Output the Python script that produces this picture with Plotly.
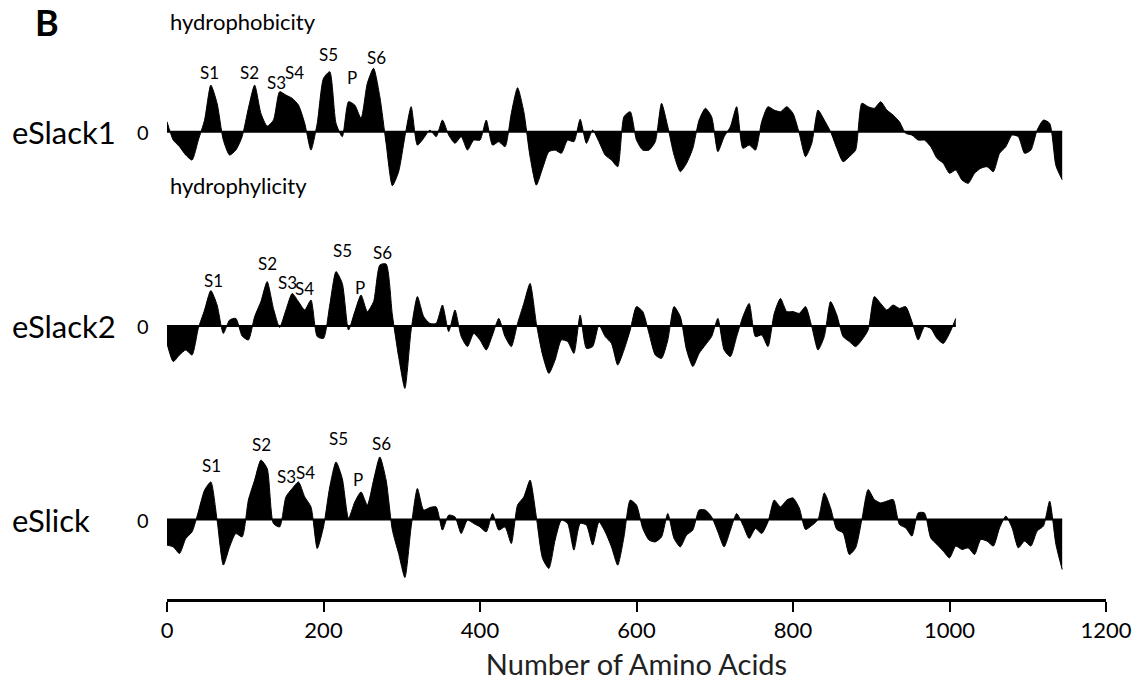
import numpy as np
import plotly.graph_objects as go

# ---------------- data (hydropathy, sampled every 8 residues) ----------------
STEP = 8
eslack1 = [0.5, -0.42, -0.75, -1.17, -1.42, -0.42, 0.58, 2.33, 1.42, -0.42,
           -1.17, -0.92, -0.25, 1.17, 2.33, 0.92, 0.28, 0.58, 2.0, 1.83,
           1.67, 1.33, 0.42, -0.92, 0.42, 2.67, 3.0, 0.42, -0.25, 1.5,
           1.33, 0.67, 2.42, 3.17, 1.75, -0.58, -2.7, -2.0, -0.25, 1.25,
           -0.67, -0.33, 0.08, -0.25, 0.58, -0.17, -0.58, -0.25, -0.92, -0.42,
           -0.42, 0.58, -0.67, -0.5, -0.75, 0.92, 2.2, 1.0, -1.25, -2.67,
           -1.83, -1.0, -0.92, -1.08, -0.42, -0.5, 0.62, -0.58, 0.08, -0.5,
           -1.17, -1.42, -1.75, 0.75, 1.0, -0.42, -0.92, -0.92, -0.5, 1.42,
           0.25, -1.17, -2.0, -1.58, -0.83, 0.58, 1.17, 0.75, -1.0, -0.25,
           0.25, 1.25, -0.83, -0.67, -0.92, 0.5, 1.25, 1.08, 1.0, 1.25,
           0.92, -0.08, -1.25, -0.58, 1.08, 0.58, 0.0, -0.83, -1.5, -1.25,
           -0.92, 1.42, 1.25, 1.17, 1.5, 1.08, 0.83, 0.5, -0.08, -0.17,
           -0.42, -0.42, -0.75, -1.33, -1.58, -2.08, -1.92, -2.42, -2.58, -2.08,
           -1.83, -1.75, -2.0, -1.08, -0.75, -0.17, -0.25, -1.08, -0.92, 0.08,
           0.58, 0.42, -1.7, -2.4]
eslack2 = [-0.87, -1.78, -1.45, -1.2, -1.45, -0.12, 0.8, 1.77, 1.05, -0.37,
           0.3, 0.38, -0.5, -0.7, 0.47, 1.22, 2.22, 0.88, -0.07, 0.8,
           1.63, 1.22, 0.8, 1.3, -0.53, -0.62, 1.05, 2.72, 2.13, -0.2,
           0.72, 1.55, 0.72, 1.22, 3.05, 3.1, 0.55, -1.53, -3.12, -0.2,
           1.47, 0.47, 0.13, 0.13, 1.05, -0.28, 0.8, -0.53, -1.03, -0.37,
           -0.7, -1.2, -0.45, 0.38, -0.53, -1.03, 0.13, 1.13, 2.13, 0.13,
           -1.45, -2.37, -1.7, -0.7, -0.78, -1.37, 0.55, -1.12, -1.03, 0.05,
           -0.53, -0.87, -1.95, -1.2, -0.2, 0.97, 0.72, -0.37, -1.45, -1.62,
           -0.7, 0.97, 0.47, -1.2, -2.03, -1.37, -0.95, -0.53, 0.38, -1.2,
           -1.53, -0.53, 0.47, 1.13, -0.53, -0.45, -1.03, 0.63, 1.38, 0.72,
           0.72, 0.63, 0.97, -0.03, -1.2, -0.53, 1.22, 0.55, -0.53, -0.78,
           -1.03, -0.7, -0.2, 1.47, 1.13, 0.8, 1.05, 0.88, 0.97, 0.22,
           -0.7, -0.03, -0.12, -0.62, -0.87, -0.37, 0.38]
eslick = [-1.28, -1.37, -1.7, -0.95, -0.62, 0.38, 1.47, 1.88, -0.03, -2.28,
          -1.37, -0.7, -0.87, 0.97, 1.97, 2.97, 2.55, -0.2, -0.37, 1.13,
          1.55, 1.88, 1.13, 0.63, -1.45, -0.37, 1.63, 2.88, 2.05, 0.05,
          0.88, 1.38, 0.72, 1.97, 3.13, 1.97, -0.53, -1.7, -2.9, -0.37,
          1.55, 0.47, 0.6, 0.63, -0.53, 0.22, 0.13, -0.7, -0.03, -0.2,
          -0.37, -0.62, 0.3, -0.53, -0.37, -1.2, 0.72, 1.13, 1.97, 0.13,
          -1.95, -2.45, -1.03, -0.03, -0.2, -1.53, -0.2, -0.28, -1.28, -0.12,
          -0.62, -1.37, -2.28, -0.87, 0.97, 0.72, -0.45, -1.03, -1.12, -0.87,
          0.3, -0.95, -1.37, -0.78, -0.53, 0.47, 0.47, 0.13, -0.62, -1.37,
          -0.53, 0.3, -0.28, -0.95, -0.45, -0.7, -0.12, 0.97, 0.63, 0.97,
          1.08, 0.58, -0.5, -0.3, 0.0, 1.33, 0.58, -0.5, -0.67, -1.75,
          -1.42, 0.0, 1.5, 1.0, 0.83, 0.92, 1.0, -0.25, -0.42, -0.83,
          0.33, 0.33, -0.92, -1.25, -1.58, -1.92, -1.33, -1.5, -1.42, -1.75,
          -1.0, -1.08, -1.33, -0.42, 0.17, -0.42, -1.42, -1.08, -1.33, -0.58,
          -0.33, 0.92, -1.25, -2.5]
names = ["eSlack1", "eSlack2", "eSlick"]
series = [eslack1, eslack2, eslick]
segments = ["S1", "S2", "S3", "S4", "S5", "P", "S6"]
x_ticks = [0, 200, 400, 600, 800, 1000, 1200]

# segment-label anchor points (layout): residue position, height above zero
seg_pos = [
    [(54, 2.95), (106, 2.95), (140, 2.45), (163, 2.95), (207, 3.85), (236, 2.7), (268, 3.7)],
    [(59, 2.3), (129, 3.15), (154, 2.2), (176, 1.9), (224, 3.8), (246, 1.95), (275, 3.7)],
    [(57, 2.7), (121, 3.75), (153, 2.15), (177, 2.35), (219, 4.05), (244, 2.0), (274, 3.8)],
]

FONT = "Lato"
fig = go.Figure()
yaxes = ["y", "y2", "y3"]
for vals, ya in zip(series, yaxes):
    xs = np.arange(len(vals)) * STEP
    fig.add_trace(go.Scatter(x=xs, y=vals, mode="lines", fill="tozeroy",
                             line=dict(color="black", width=1, shape="spline",
                                       smoothing=0.6),
                             fillcolor="black", yaxis=ya, hoverinfo="skip",
                             showlegend=False))
    fig.add_trace(go.Scatter(x=[xs[0], xs[-1]], y=[0, 0], mode="lines",
                             line=dict(color="black", width=2), yaxis=ya,
                             hoverinfo="skip", showlegend=False))

PX_PER_UNIT = 20.0
PLOT_H = 600
baselines = [131.7, 326.0, 519.5]   # pixel rows of zero lines
ranges = []
for b in baselines:
    lo = -(PLOT_H - b) / PX_PER_UNIT
    ranges.append([lo, lo + PLOT_H / PX_PER_UNIT])

common_y = dict(visible=False, fixedrange=True)
fig.update_layout(
    width=1142, height=696,
    margin=dict(l=167, r=36, t=0, b=96),
    plot_bgcolor="white", paper_bgcolor="white",
    xaxis=dict(range=[0, 1200], tickvals=x_ticks, ticks="outside", ticklen=10,
               tickwidth=2, tickcolor="black", showline=True, linecolor="black",
               linewidth=3, showgrid=False, zeroline=False,
               tickfont=dict(family=FONT, size=22, color="black"),
               title=dict(text="Number of Amino Acids", standoff=12,
                          font=dict(family=FONT, size=29, color="#222222")),
               anchor="free", position=0),
    yaxis=dict(range=ranges[0], domain=[0, 1], **common_y),
    yaxis2=dict(range=ranges[1], overlaying="y", **common_y),
    yaxis3=dict(range=ranges[2], overlaying="y", **common_y),
)

ann = []
for i, (nm, ya) in enumerate(zip(names, yaxes)):
    yref = ya
    ann.append(dict(text=nm, x=-0.167, xref="paper", xanchor="left", y=0, yref=yref,
                    yanchor="middle", showarrow=False,
                    font=dict(family=FONT, size=31, color="black")))
    ann.append(dict(text="0", x=-0.017, xref="paper", xanchor="right", y=0, yref=yref,
                    yanchor="middle", showarrow=False,
                    font=dict(family=FONT, size=20, color="black")))
    for lab, (px, py) in zip(segments, seg_pos[i]):
        ann.append(dict(text=lab, x=px, xref="x", y=py, yref=yref, xanchor="center",
                        yanchor="middle", showarrow=False,
                        font=dict(family=FONT, size=17, color="black")))

ann.append(dict(text="<b>B</b>", x=-0.143, xref="paper", xanchor="left",
                y=(PLOT_H - 22) / PLOT_H, yref="paper", yanchor="middle",
                showarrow=False, font=dict(family=FONT, size=36, color="black")))
ann.append(dict(text="hydrophobicity", x=0.001, xref="paper", xanchor="left",
                y=(PLOT_H - 22) / PLOT_H, yref="paper", yanchor="middle",
                showarrow=False, font=dict(family=FONT, size=22, color="black")))
ann.append(dict(text="hydrophylicity", x=0.001, xref="paper", xanchor="left",
                y=(PLOT_H - 185) / PLOT_H, yref="paper", yanchor="middle",
                showarrow=False, font=dict(family=FONT, size=22, color="black")))
fig.update_layout(annotations=ann)

fig.write_html("out.html")
